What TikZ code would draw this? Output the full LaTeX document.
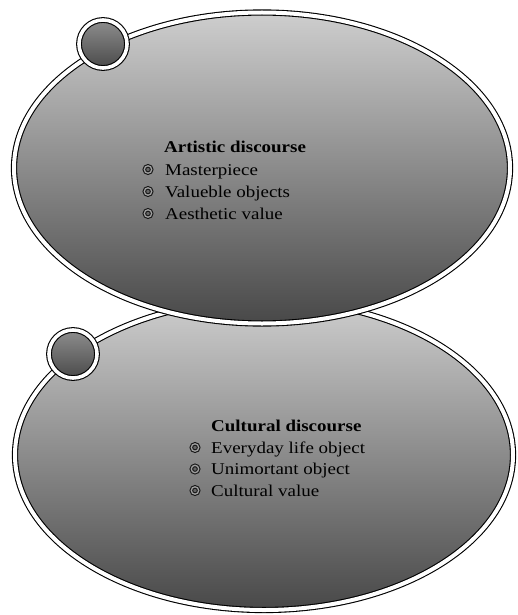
\documentclass[tikz,border=0pt]{standalone}
\usepackage{fontspec}
\setmainfont[FakeStretch=1.15]{Liberation Serif}
\usetikzlibrary{shapes.geometric}
\definecolor{elltop}{RGB}{206,206,206}
\definecolor{ellbot}{RGB}{72,72,72}
\definecolor{dottop}{RGB}{142,142,142}
\definecolor{dotbot}{RGB}{74,74,74}
\tikzset{
  bigell/.style={ellipse, inner sep=0pt, outer sep=0pt, top color=elltop, bottom color=ellbot,
    draw=black, line width=1.1pt, double=white, double distance=4pt},
  knob/.style={circle, inner sep=0pt, minimum size=48pt, top color=dottop, bottom color=dotbot,
    draw=black, line width=1.1pt, double=white, double distance=3.6pt},
  bulletc/.style={circle, inner sep=0pt, minimum size=7.4pt, fill=gray!80!black,
    draw=black!90, line width=1.1pt, double=gray!75, double distance=1.3pt},
  ttl/.style={anchor=base west, inner sep=0pt, font=\fontsize{16.5}{20}\selectfont\bfseries},
  itm/.style={anchor=base west, inner sep=0pt, font=\fontsize{16.5}{20}\selectfont},
}
\begin{document}
\begin{tikzpicture}[x=1pt, y=-1pt]
\useasboundingbox (0,0) rectangle (518,615);
\fill[white] (0,0) rectangle (518,615);
% bottom ellipse (drawn first)
\node[bigell, minimum width=498pt, minimum height=310pt] (e2) at (264,455) {};
% top ellipse
\node[bigell, minimum width=496pt, minimum height=311pt] (e1) at (262,168) {};
% knobs
\node[knob] (k1) at (103,44) {};
\node[knob] (k2) at (73,354) {};
% top text
\node[ttl] (t1) at (164,152) {Artistic discourse};
\node[itm] (a1) at (165,175) {Masterpiece};
\node[itm] (a2) at (165,197) {Valueble objects};
\node[itm] (a3) at (165,219) {Aesthetic value};
\node[bulletc] (ba1) at (148,169.5) {};
\node[bulletc] (ba2) at (148,191.5) {};
\node[bulletc] (ba3) at (148,213.5) {};
% bottom text
\node[ttl] (t2) at (211,431) {Cultural discourse};
\node[itm] (c1) at (211,453) {Everyday life object};
\node[itm] (c2) at (211,474.5) {Unimortant object};
\node[itm] (c3) at (211,496) {Cultural value};
\node[bulletc] (bc1) at (195,447.5) {};
\node[bulletc] (bc2) at (195,469) {};
\node[bulletc] (bc3) at (195,490.5) {};
\end{tikzpicture}
\end{document}
